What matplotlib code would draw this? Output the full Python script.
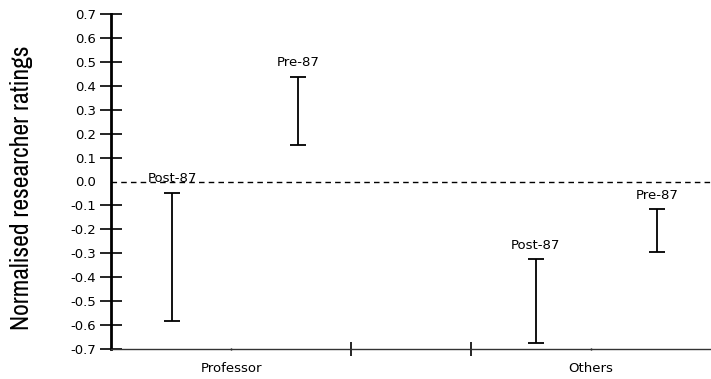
import matplotlib
matplotlib.use("Agg")
import matplotlib.pyplot as plt
import numpy as np

# Rating ranges by staff grade and appointment period
categories = ["Professor", "Others"]
category_pos = [1, 4]
divider_pos = [2, 3]
period_labels = ["Post-87", "Pre-87", "Post-87", "Pre-87"]
bar_pos = [0.51, 1.56, 3.54, 4.55]
range_low = [-0.585, 0.151, -0.674, -0.295]
range_high = [-0.047, 0.438, -0.325, -0.115]
y_ticks = [round(v, 1) + 0.0 for v in np.arange(-0.7, 0.71, 0.1)]

LABEL_FONT = ["DejaVu Sans"]
TITLE_FONT = ["Archivo Narrow", "Roboto Condensed", "DejaVu Sans"]

fig = plt.figure(figsize=(7.11, 3.79), dpi=100)
ax = fig.add_axes([111 / 711, 30 / 379, 600 / 711, 335 / 379])

low = np.array(range_low)
high = np.array(range_high)
mid = (low + high) / 2
half = (high - low) / 2
ax.errorbar(bar_pos, mid, yerr=half, fmt="none", ecolor="black",
            elinewidth=1.3, capsize=6, capthick=1.3)

for x, top, lab in zip(bar_pos, range_high, period_labels):
    ax.annotate(lab, (x, top), xytext=(0, 10), textcoords="offset points",
                ha="center", va="center", fontsize=9.5, family=LABEL_FONT)

ax.axhline(0, color="black", lw=1, ls=(0, (4, 3)))

ax.set_xlim(0, 5)
ax.set_ylim(-0.7, 0.7)
ax.set_yticks(y_ticks)
ax.set_yticklabels([f"{abs(v) if abs(v) < 1e-9 else v:.1f}" for v in y_ticks],
                   family=LABEL_FONT, fontsize=9.5)
ax.tick_params(axis="y", direction="inout", length=16, width=1.2, pad=3)
for t in ax.yaxis.get_major_ticks():
    if abs(t.get_loc()) < 1e-9:
        t.tick1line.set_visible(False)

ax.set_xticks(divider_pos)
ax.set_xticklabels([])
ax.tick_params(axis="x", which="major", direction="inout", length=10, width=1.2)
ax.set_xticks(category_pos, minor=True)
ax.set_xticklabels(categories, minor=True, fontsize=9.5, family=LABEL_FONT)
ax.tick_params(axis="x", which="minor", direction="inout", length=2, width=1, pad=8)

for s in ("top", "right"):
    ax.spines[s].set_visible(False)
ax.spines["left"].set_linewidth(2)
ax.spines["bottom"].set_linewidth(1)
ax.spines["bottom"].set_color("#333333")

fig.text(22 / 711, 0.505, "Normalised researcher ratings", rotation=90,
         ha="center", va="center", fontsize=18.5, weight="medium",
         family=TITLE_FONT)

fig.savefig("out.png", dpi=100)
